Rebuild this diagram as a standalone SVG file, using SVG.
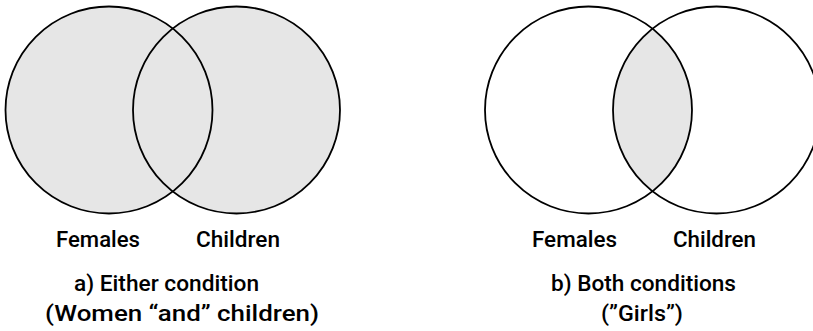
<svg xmlns="http://www.w3.org/2000/svg" width="813" height="331" viewBox="0 0 813 331">
<style>
.c{fill:none;stroke:#000;stroke-width:1.8}
.f{fill:#e6e6e6;stroke:none}
text{font-family:Roboto,"Liberation Sans",sans-serif;font-weight:500;font-size:22.5px;fill:#000;text-anchor:middle}
</style>
<defs>
<clipPath id="clipB"><circle cx="716.5" cy="110" r="103.5"/></clipPath>
</defs>
<rect width="813" height="331" fill="#fff"/>
<g id="diagram-a">
<g id="a-fill">
<circle class="f" cx="109" cy="110" r="103.5"/>
<circle class="f" cx="236.5" cy="110" r="103.5"/>
</g>
<g id="a-females"><circle class="c" cx="109" cy="110" r="103.5"/><text x="98" y="247" textLength="84" lengthAdjust="spacingAndGlyphs">Females</text></g>
<g id="a-children"><circle class="c" cx="236.5" cy="110" r="103.5"/><text x="238" y="247" textLength="84" lengthAdjust="spacingAndGlyphs">Children</text></g>
<text x="166.5" y="291" textLength="185" lengthAdjust="spacingAndGlyphs">a) Either condition</text>
<text x="182" y="321" textLength="274" lengthAdjust="spacingAndGlyphs">(Women “and” children)</text>
</g>
<g id="diagram-b">
<circle class="f" cx="588.5" cy="110" r="103.5" clip-path="url(#clipB)"/>
<g id="b-females"><circle class="c" cx="588.5" cy="110" r="103.5"/><text x="574.5" y="247" textLength="85" lengthAdjust="spacingAndGlyphs">Females</text></g>
<g id="b-children"><circle class="c" cx="716.5" cy="110" r="103.5"/><text x="714.5" y="247" textLength="83" lengthAdjust="spacingAndGlyphs">Children</text></g>
<text x="643.5" y="291" textLength="185" lengthAdjust="spacingAndGlyphs">b) Both conditions</text>
<text x="642" y="321" textLength="82" lengthAdjust="spacingAndGlyphs">(”Girls”)</text>
</g>
</svg>
